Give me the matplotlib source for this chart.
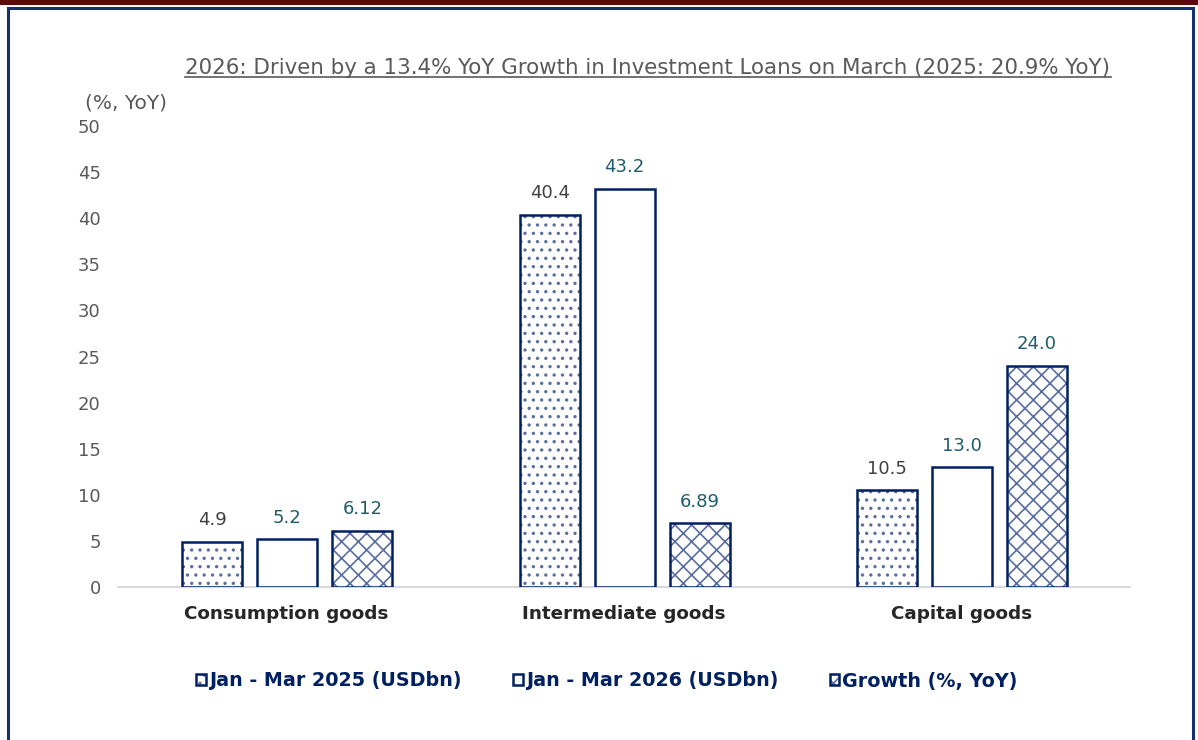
import numpy as np
import matplotlib
matplotlib.use("Agg")
import matplotlib.pyplot as plt
from matplotlib.patches import Rectangle
from matplotlib.lines import Line2D

categories = ["Consumption goods", "Intermediate goods", "Capital goods"]
series_names = ["Jan - Mar 2025 (USDbn)", "Jan - Mar 2026 (USDbn)", "Growth (%, YoY)"]
jan_mar_2025 = [4.9, 40.4, 10.5]
jan_mar_2026 = [5.2, 43.2, 13.0]
growth = [6.12, 6.89, 24.0]
label_2025 = ["4.9", "40.4", "10.5"]
label_2026 = ["5.2", "43.2", "13.0"]
label_growth = ["6.12", "6.89", "24.0"]
y_ticks = [0, 5, 10, 15, 20, 25, 30, 35, 40, 45, 50]

navy = "#002060"
hatch_col = "#5a6ea0"
plt.rcParams["hatch.linewidth"] = 1.2
plt.rcParams["font.family"] = ["DejaVu Sans"]

fig = plt.figure(figsize=(11.98, 7.40), dpi=100)
ax = fig.add_axes([118 / 1198, 1 - 587 / 740, (1130 - 118) / 1198, (587 - 126) / 740])

x = np.arange(len(categories))
w = 0.178
step = 0.2225
series = [jan_mar_2025, jan_mar_2026, growth]
labels = [label_2025, label_2026, label_growth]
hatches = ["..", None, "xx"]
lab_colors = ["#404040", "#1f5c6b", "#1f5c6b"]
handles = []
for i, (vals, labs) in enumerate(zip(series, labels)):
    pos = x + (i - 1) * step + 0.002
    fill = ax.bar(pos, vals, width=w, facecolor="white", edgecolor=hatch_col,
                  linewidth=0, hatch=hatches[i], zorder=3)
    bars = ax.bar(pos, vals, width=w, facecolor="none",
                  edgecolor=navy, linewidth=1.8, zorder=4)
    handles.append((fill[0], bars[0]))
    for b, t in zip(bars, labs):
        ax.annotate(t, (b.get_x() + b.get_width() / 2, b.get_height()),
                    xytext=(0, 9), textcoords="offset points",
                    ha="center", va="bottom", fontsize=13, color=lab_colors[i])

ax.set_xlim(-0.5, 2.5)
ax.set_ylim(0, 50)
ax.set_yticks(y_ticks)
ax.tick_params(axis="y", length=0, labelsize=13, labelcolor="#595959", pad=12.5)
ax.set_xticks(x)
ax.set_xticklabels(categories, fontsize=13.2, fontweight="bold", color="#262626")
ax.tick_params(axis="x", length=0, pad=13)
for s in ["top", "right", "left"]:
    ax.spines[s].set_visible(False)
ax.spines["bottom"].set_color("#d9d9d9")
ax.spines["bottom"].set_linewidth(1.5)

fig.text(85 / 1198, 1 - 103 / 740, "(%, YoY)", fontsize=14.5, color="#595959",
         ha="left", va="center")

title = fig.text(648 / 1198, 1 - 68 / 740,
                 "2026: Driven by a 13.4% YoY Growth in Investment Loans on March (2025: 20.9% YoY)",
                 fontsize=15.4, color="#595959", ha="center", va="center")
fig.canvas.draw()
bb = title.get_window_extent().transformed(fig.transFigure.inverted())
fig.add_artist(Line2D([bb.x0, bb.x1], [bb.y0 + 0.002, bb.y0 + 0.002],
                      transform=fig.transFigure, color="#595959", linewidth=1.2))

fig.legend(handles, series_names, loc="center", bbox_to_anchor=(607 / 1198, 1 - 681 / 740),
           ncol=3, frameon=False, handlelength=0.5, handleheight=0.5,
           handletextpad=0.15, columnspacing=2.7,
           prop={"size": 13.8, "weight": "bold"}, labelcolor=navy)

# frame
fig.add_artist(Rectangle((0, 1 - 5 / 740), 1, 5 / 740, transform=fig.transFigure,
                         facecolor="#5c0a0a", edgecolor="none"))
border = "#15306a"
fig.add_artist(Line2D([7.5 / 1198, 7.5 / 1198], [0, 1 - 7.5 / 740], transform=fig.transFigure,
                      color=border, linewidth=2.2))
fig.add_artist(Line2D([1193 / 1198, 1193 / 1198], [0, 1 - 7.5 / 740], transform=fig.transFigure,
                      color=border, linewidth=2.2))
fig.add_artist(Line2D([7.5 / 1198, 1193 / 1198], [1 - 7.5 / 740, 1 - 7.5 / 740],
                      transform=fig.transFigure, color=border, linewidth=2.2))

fig.savefig("out.png", dpi=100)
